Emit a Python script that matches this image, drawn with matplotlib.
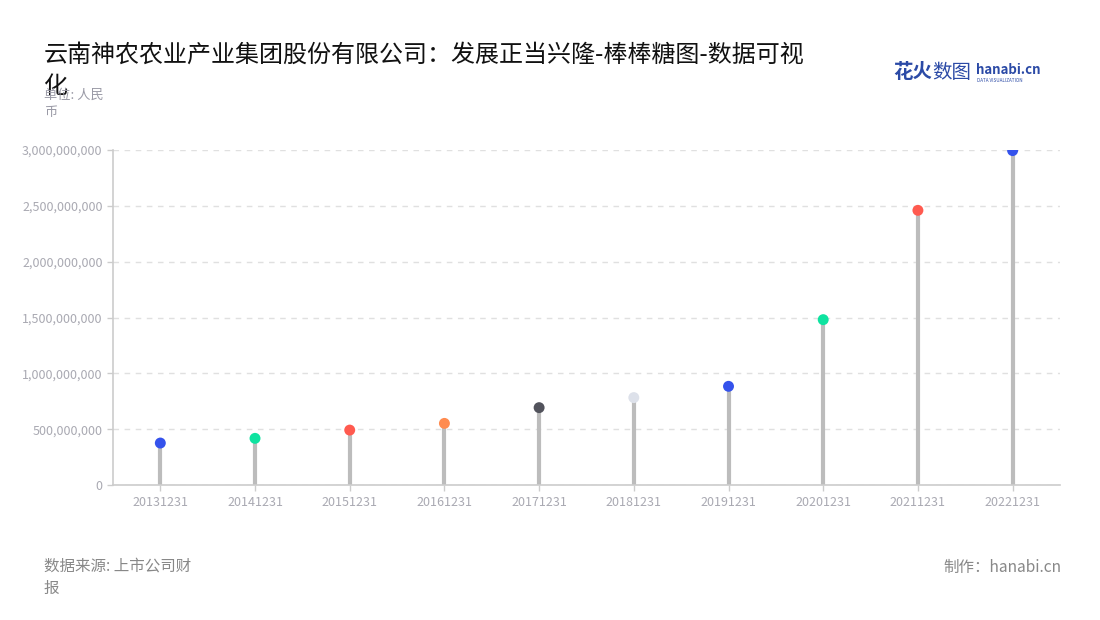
import matplotlib
matplotlib.use("Agg")
import matplotlib.pyplot as plt
from matplotlib.ticker import FuncFormatter

plt.rcParams["font.family"] = ["Noto Sans CJK SC", "DejaVu Sans"]

# values (元)
dates = ["20131231", "20141231", "20151231", "20161231", "20171231",
         "20181231", "20191231", "20201231", "20211231", "20221231"]
values = [376e6, 418e6, 492e6, 552e6, 693e6, 783e6, 884e6, 1481e6, 2460e6, 2995e6]
dot_colors = ["#3452ec", "#0ee3a0", "#ff5a4f", "#ff8b4f", "#52535c",
              "#dde1ea", "#3452ec", "#0ee3a0", "#ff5a4f", "#3452ec"]

title_lines = ["云南神农农业产业集团股份有限公司：发展正当兴隆-棒棒糖图-数据可视", "化"]
unit = "单位: 人民\n币"
source = "数据来源: 上市公司财\n报"
credit = "制作：hanabi.cn"

fig = plt.figure(figsize=(11, 6.2), dpi=100)
ax = fig.add_axes([0.1027, 0.2177, 0.8609, 0.5403])

x = list(range(len(dates)))
ax.vlines(x, 0, values, color="#bcbcbc", linewidth=3, zorder=2)
ax.scatter(x, values, s=62, c=dot_colors, zorder=3, linewidths=0)

ax.set_xlim(-0.5, len(dates) - 0.5)
ax.set_ylim(0, 3e9)
ax.set_yticks([i * 5e8 for i in range(7)])
ax.yaxis.set_major_formatter(FuncFormatter(lambda v, _: f"{v:,.0f}"))
ax.set_xticks(x)
ax.set_xticklabels(dates)

ax.grid(axis="y", color="#e0e0e0", linestyle=(0, (4, 4)), linewidth=1)
ax.set_axisbelow(True)
for side in ("top", "right"):
    ax.spines[side].set_visible(False)
for side in ("left", "bottom"):
    ax.spines[side].set_color("#cccccc")
    ax.spines[side].set_linewidth(1.2)
ax.tick_params(axis="both", colors="#cccccc", labelcolor="#a9a9b2",
               labelsize=9, length=4, width=1)
ax.tick_params(axis="x", pad=4)

fig.text(44 / 1100, 1 - 55 / 620, title_lines[0], fontsize=17.3, color="#111111",
         va="center", ha="left")
fig.text(44 / 1100, 1 - 86 / 620, title_lines[1], fontsize=17.3, color="#111111",
         va="center", ha="left")
fig.text(44 / 1100, 1 - 104 / 620, unit, fontsize=9.5, color="#9a9aa6",
         va="center", ha="left", linespacing=1.45)
fig.text(44 / 1100, 1 - 577 / 620, source, fontsize=11.2, color="#888888",
         va="center", ha="left", linespacing=1.4)
fig.text(1061 / 1100, 1 - 567 / 620, credit, fontsize=11.2, color="#888888",
         va="center", ha="right")

# logo
fig.text(893 / 1100, 1 - 72 / 620, "花火", fontsize=14, color="#2b4aa6",
         fontweight="bold", va="center", ha="left")
fig.text(932 / 1100, 1 - 72 / 620, "数图", fontsize=14, color="#2b4aa6",
         va="center", ha="left")
fig.text(976 / 1100, 1 - 70 / 620, "hanabi.cn", fontsize=9.5, color="#2b4aa6",
         fontweight="bold", va="center", ha="left")
fig.text(977 / 1100, 1 - 80 / 620, "DATA VISUALIZATION", fontsize=3.3, color="#2b4aa6",
         va="center", ha="left")

fig.savefig("out.png", dpi=100)
